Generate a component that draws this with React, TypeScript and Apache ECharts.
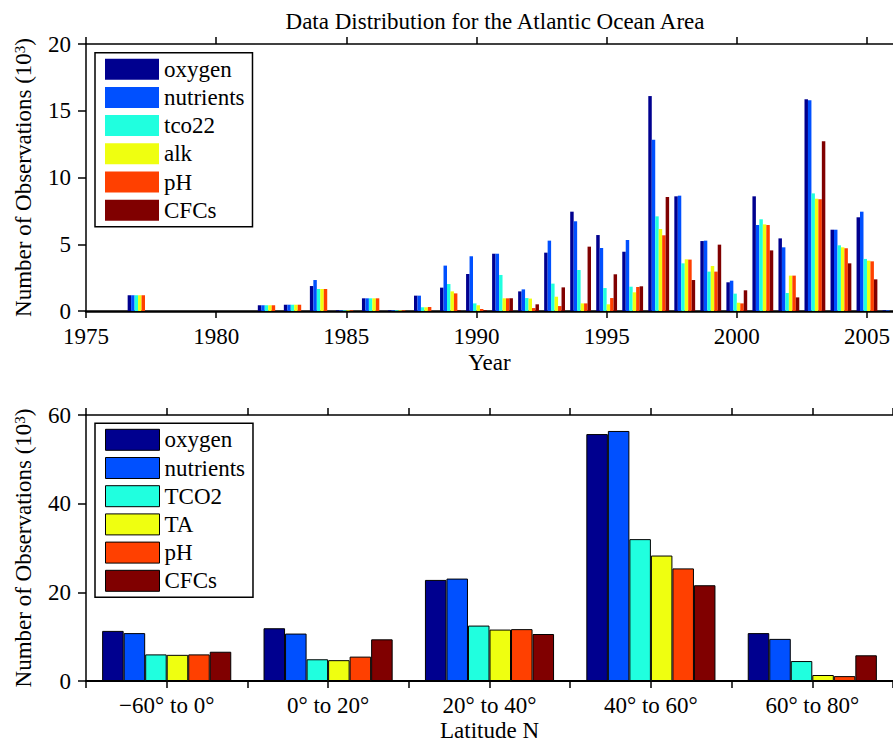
import React, { useEffect, useRef } from 'react';
import * as echarts from 'echarts';

const FONT = '"Liberation Serif", "Times New Roman", serif';

const years = ['1975','1976','1977','1978','1979','1980','1981','1982','1983','1984','1985','1986','1987','1988','1989','1990','1991','1992','1993','1994','1995','1996','1997','1998','1999','2000','2001','2002','2003','2004','2005','2006'];

const topNames = ['oxygen', 'nutrients', 'tco22', 'alk', 'pH', 'CFCs'];
const bottomNames = ['oxygen', 'nutrients', 'TCO2', 'TA', 'pH', 'CFCs'];
const colors = ['#00008F', '#0050FF', '#20FFDF', '#EFFF10', '#FF4000', '#800000'];

// Top chart: observations per year (10^3)
const yrOxygen = [0,0,1.18,0,0,0,0,0.43,0.47,1.87,0.05,0.95,0.05,1.15,1.75,2.77,4.29,1.47,4.37,7.44,5.69,4.44,16.1,8.59,5.24,2.15,8.59,5.44,15.86,6.09,7.02,0.05];
const yrNutrients = [0,0,1.18,0,0,0,0,0.43,0.47,2.32,0.05,0.95,0.05,1.15,3.4,4.1,4.29,1.62,5.27,6.72,4.72,5.32,12.83,8.64,5.27,2.27,6.44,4.77,15.78,6.09,7.44,0.05];
const yrTco2 = [0,0,1.18,0,0,0,0,0.43,0.47,1.65,0.05,0.95,0.05,0.28,2.02,0.57,2.7,0.97,2.05,3.07,1.72,1.82,7.09,3.57,2.95,1.3,6.87,1.35,8.81,4.92,3.9,0];
const yrAlk = [0,0,1.18,0,0,0,0,0.43,0.47,1.65,0.05,0.95,0.05,0.28,1.47,0.43,0.95,0.93,1.07,0.57,0.5,1.4,6.14,3.87,3.37,0.62,6.49,2.65,8.41,4.77,3.77,0];
const yrPH = [0,0,1.18,0,0,0,0,0.43,0.47,1.65,0.05,0.95,0.05,0.3,1.32,0.15,0.95,0.22,0.37,0.57,0.97,1.8,5.67,3.85,2.95,0.57,6.44,2.65,8.37,4.7,3.72,0];
const yrCFCs = [0,0,0,0,0,0,0,0,0,0,0,0,0,0,0.05,0.05,0.95,0.5,1.77,4.82,2.75,1.85,8.54,2.32,4.97,1.55,4.54,1.02,12.71,3.57,2.37,0];

// Bottom chart: observations per latitude band (10^3)
const latLabels = ['\u221260\u00b0 to 0\u00b0', '0\u00b0 to 20\u00b0', '20\u00b0 to 40\u00b0', '40\u00b0 to 60\u00b0', '60\u00b0 to 80\u00b0'];
const latOxygen = [11.3, 11.9, 22.8, 55.7, 10.8];
const latNutrients = [10.8, 10.7, 23.1, 56.4, 9.5];
const latTCO2 = [6.0, 4.9, 12.5, 32.0, 4.5];
const latTA = [5.9, 4.7, 11.6, 28.3, 1.35];
const latPH = [6.0, 5.5, 11.7, 25.4, 1.1];
const latCFCs = [6.6, 9.4, 10.6, 21.6, 5.8];

const topData = [yrOxygen, yrNutrients, yrTco2, yrAlk, yrPH, yrCFCs];
const bottomData = [latOxygen, latNutrients, latTCO2, latTA, latPH, latCFCs];

const txt = { fontFamily: FONT, fontSize: 23, color: '#000' };
const lineStyle = { color: '#000', width: 1.5 };

const yName = 'Number of Observations (10{sup|3})';
const yNameStyle = {
  ...txt,
  rich: {
    sup: { fontFamily: FONT, fontSize: 15, color: '#000', verticalAlign: 'top', lineHeight: 15, padding: [0, 0, 10, 0] },
  },
};

export default function App() {
  const ref = useRef<HTMLDivElement>(null);
  useEffect(() => {
    if (!ref.current) return;
    const chart = echarts.init(ref.current, undefined, { renderer: 'svg' });
    const legendBase = {
      orient: 'vertical',
      left: 95,
      itemWidth: 54,
      itemHeight: 21,
      itemGap: 5.2,
      padding: [5, 8, 5, 10],
      borderColor: '#000',
      borderWidth: 1.5,
      backgroundColor: '#fff',
      icon: 'rect',
      textStyle: { ...txt },
      selectedMode: false,
    };
    chart.setOption({
      animation: false,
      title: {
        text: 'Data Distribution for the Atlantic Ocean Area',
        left: 490,
        top: 5,
        textAlign: 'center',
        textStyle: { ...txt, fontWeight: 'normal' },
      },
      legend: [
        { ...legendBase, top: 52.7, data: topNames },
        { ...legendBase, top: 423.3, data: bottomNames, itemStyle: { borderColor: '#000', borderWidth: 1 } },
      ],
      grid: [
        { left: 86, top: 44, right: -2, height: 267 },
        { left: 86, top: 415, right: -3, height: 267 },
      ],
      xAxis: [
        {
          gridIndex: 0, type: 'category', data: years, boundaryGap: false, position: 'bottom',
          axisLine: { lineStyle: { color: '#000', width: 2.5 } },
          axisTick: { interval: 4, length: 7, inside: false, lineStyle },
          axisLabel: { ...txt, interval: 4, margin: 14 },
          name: 'Year', nameLocation: 'middle', nameGap: 40, nameTextStyle: { ...txt },
          splitLine: { show: false },
        },
        {
          gridIndex: 0, type: 'category', data: years, boundaryGap: false, position: 'top',
          axisLine: { lineStyle },
          axisTick: { interval: 4, length: 7, inside: false, lineStyle },
          axisLabel: { show: false },
          splitLine: { show: false },
        },
        {
          gridIndex: 1, type: 'category', data: latLabels, boundaryGap: true, position: 'bottom',
          axisLine: { show: false },
          axisTick: { show: false },
          axisLabel: { ...txt, margin: 13 },
          name: 'Latitude N', nameLocation: 'middle', nameGap: 38, nameTextStyle: { ...txt },
          splitLine: { show: false },
        },
        {
          gridIndex: 1, type: 'value', min: 0.5, max: 5.5, interval: 0.5, position: 'bottom',
          axisLine: { show: true, lineStyle: { color: '#000', width: 2 } },
          axisTick: { show: true, length: 7, inside: false, lineStyle },
          axisLabel: { show: false },
          splitLine: { show: false },
        },
        {
          gridIndex: 1, type: 'value', min: 0.5, max: 5.5, interval: 0.5, position: 'top',
          axisLine: { show: true, lineStyle },
          axisTick: { show: true, length: 7, inside: false, lineStyle },
          axisLabel: { show: false },
          splitLine: { show: false },
        },
      ],
      yAxis: [
        {
          gridIndex: 0, type: 'value', min: 0, max: 20, interval: 5,
          axisLine: { show: true, lineStyle },
          axisTick: { show: true, length: 8, inside: false, lineStyle },
          axisLabel: { ...txt, margin: 15 },
          splitLine: { show: false },
          name: yName, nameLocation: 'middle', nameGap: 38, nameTextStyle: yNameStyle,
        },
        {
          gridIndex: 1, type: 'value', min: 0, max: 60, interval: 20,
          axisLine: { show: true, lineStyle },
          axisTick: { show: true, length: 8, inside: false, lineStyle },
          axisLabel: { ...txt, margin: 15 },
          splitLine: { show: false },
          name: yName, nameLocation: 'middle', nameGap: 38, nameTextStyle: yNameStyle,
        },
      ],
      series: [
        ...topNames.map((n, i) => ({
          type: 'bar', name: n, xAxisIndex: 0, yAxisIndex: 0, data: topData[i],
          itemStyle: { color: colors[i] }, barGap: '0%', barCategoryGap: '20%',
        })),
        ...bottomNames.map((n, i) => ({
          type: 'bar', name: n, xAxisIndex: 2, yAxisIndex: 1, data: bottomData[i],
          itemStyle: { color: colors[i], borderColor: '#000', borderWidth: 1 }, barGap: '0%', barCategoryGap: '20%',
        })),
      ],
    });
    return () => chart.dispose();
  }, []);
  return <div ref={ref} style={{ position: 'fixed', left: 0, top: 0, width: 893, height: 743, background: '#fff' }} />;
}
